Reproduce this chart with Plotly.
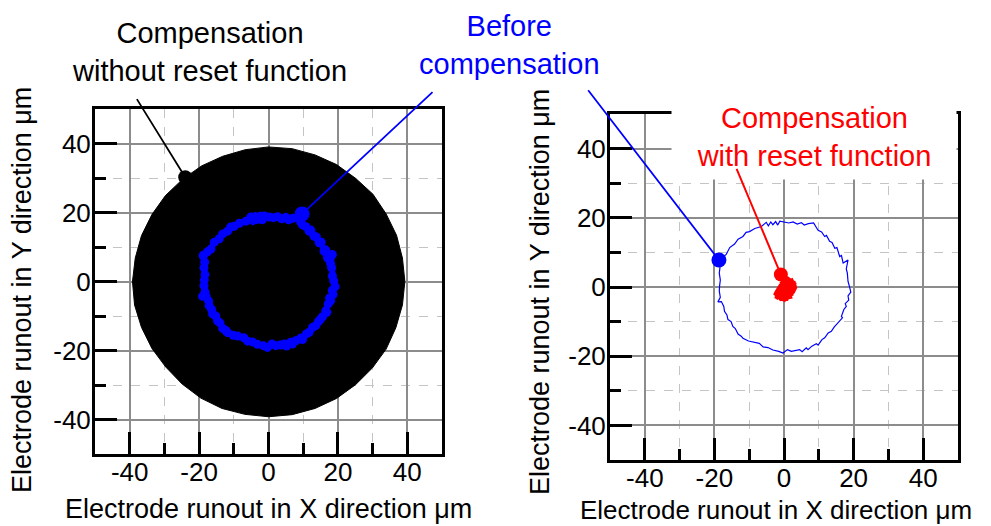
import plotly.graph_objects as go

# ---------------- data ----------------
# "Before compensation" trajectory (µm)
before_x = [-18.8, -17.6, -16.6, -15.6, -14.2, -13.2, -11.8, -10.9, -9.9, -8.4, -6.5, -5.1, -4.5, -3.8,
            -3.2, -2.4, -1.8, -1.2, 0.2, 1.4, 2.6, 3.8, 5.0, 5.8, 7.0, 8.5, 9.3, 9.8, 10.8, 11.7, 12.2,
            13.1, 13.8, 14.6, 15.2, 16.0, 16.5, 17.0, 18.4, 17.9, 18.2, 18.4, 18.8, 19.2, 18.4, 18.6,
            17.6, 17.9, 17.2, 16.5, 16.8, 15.6, 15.0, 14.4, 13.6, 12.7, 11.7, 10.9, 9.8, 9.3, 8.0, 6.9,
            6.4, 5.2, 4.5, 3.4, 2.1, 1.0, -0.3, -1.5, -3.2, -4.6, -6.0, -7.1, -8.9, -10.2, -11.8, -12.3,
            -13.2, -14.0, -14.7, -15.2, -16.1, -16.4, -17.1, -17.3, -18.0, -19.0, -18.3, -18.6, -18.5,
            -18.3, -18.6, -18.4, -18.8]
before_y = [7.6, 8.6, 9.4, 11.4, 12.4, 13.8, 14.6, 15.8, 16.0, 16.9, 17.5, 18.7, 17.7, 18.8,
            18.0, 18.9, 17.9, 19.0, 18.7, 18.5, 18.8, 18.2, 18.6, 17.9, 18.3, 18.5, 17.2, 16.4, 15.9, 14.6, 14.9,
            13.2, 12.9, 11.2, 11.4, 8.8, 9.1, 6.9, 7.8, 5.2, 4.0, 1.6, 0.2, -1.5, -2.6, -3.8,
            -4.8, -5.6, -6.5, -8.5, -8.9, -10.2, -10.9, -11.6, -12.8, -13.3, -14.7, -15.2, -16.8, -16.4, -17.1, -18.1,
            -17.6, -18.7, -18.1, -18.4, -18.6, -18.1, -19.1, -18.6, -18.2, -17.5, -17.3, -16.3, -15.8, -15.6, -14.8, -14.2,
            -13.6, -12.0, -11.4, -10.0, -9.4, -8.1, -7.0, -5.6, -4.2, -4.3, -3.0, -1.2, 0.4,
            2.0, 4.0, 5.6, 7.4]

# outline of the dense "compensation without reset function" trajectory
without_x = [39.3, 38.6, 36.9, 33.9, 30.1, 25.1, 19.6, 13.4, 6.8, 0.0, -6.7, -13.2, -19.3, -24.8, -29.7,
             -33.6, -36.6, -38.4, -39.2, -38.6, -36.6, -33.6, -29.6, -24.9, -19.5, -13.4, -6.8, 0.0,
             6.8, 13.4, 19.6, 25.1, 29.9, 33.9, 36.7, 38.6, 39.3]
without_y = [0.0, 6.8, 13.4, 19.6, 25.3, 29.9, 33.9, 36.7, 38.5, 39.0, 38.2, 36.3, 33.5, 29.6, 24.9,
             19.4, 13.3, 6.8, 0.0, -6.8, -13.3, -19.4, -24.8, -29.7, -33.8, -36.8, -38.5, -39.2,
             -38.6, -36.8, -33.9, -29.9, -25.1, -19.6, -13.4, -6.8, 0.0]

# "Compensation with reset function" trajectory
with_x = [0.0, 1.2, 2.5, 1.8, 0.4, -0.6, 0.8, 2.8, 3.0, 1.1, -1.0, -2.0, -0.7, 0.5, 1.6, 2.6, 3.2, 2.2, 0.3,
          -1.5, -2.4, -1.2, 0.1, 0.9, 2.0, 1.4, -0.2, -1.8, -0.4, 1.5, 2.9, 1.9, 0.6, -1.1, 0.4, 2.2, 2.7,
          0.9, -0.5, 0.2, -2.2, -1.4, 1.0, 2.4, 3.1, 0.0, -1.6, -0.9, 1.8, 0.7]
with_y = [0.0, -0.8, 0.6, 1.5, 2.1, 1.2, -1.6, -0.5, 0.9, 2.4, 0.4, -1.2, -2.6, -3.4, -2.2, -1.4, -0.2, 1.9, 1.0,
          -0.4, -2.0, -3.1, -3.7, -2.7, -0.9, 0.8, -0.8, -2.6, -1.9, -1.2, 0.3, 1.1, 0.3, -1.5, -2.3, -2.0, 1.3,
          1.7, 0.6, -1.2, -3.3, -0.2, -3.0, 0.1, -1.0, 1.6, -2.4, -3.5, -2.9, 2.0]

# label pointer positions (data units)
ptr_without = (-24.0, 30.2)
ptr_before_left = (9.7, 19.6)
ptr_before_right = (-18.7, 7.8)
ptr_with = (-0.9, 3.6)

major_ticks = [-40, -20, 0, 20, 40]
major_labels = ["-40", "-20", "0", "20", "40"]
minor_ticks = [-30, -10, 10, 30]

BLUE = "#0000ff"
RED = "#ff0000"
FONT = "Liberation Sans, Arial, sans-serif"

fig = go.Figure()

# left panel
fig.add_trace(go.Scatter(x=without_x, y=without_y, mode="lines", fill="toself",
                         fillcolor="black", line=dict(color="black", width=1),
                         xaxis="x", yaxis="y", hoverinfo="skip"))
fig.add_trace(go.Scatter(x=[ptr_without[0]], y=[ptr_without[1]], mode="markers",
                         marker=dict(color="black", size=14), xaxis="x", yaxis="y"))
fig.add_trace(go.Scatter(x=before_x, y=before_y, mode="lines+markers",
                         line=dict(color=BLUE, width=6), marker=dict(color=BLUE, size=9),
                         xaxis="x", yaxis="y"))
fig.add_trace(go.Scatter(x=[ptr_before_left[0]], y=[ptr_before_left[1]], mode="markers",
                         marker=dict(color=BLUE, size=15), xaxis="x", yaxis="y"))

# right panel
fig.add_trace(go.Scatter(x=before_x, y=before_y, mode="lines",
                         line=dict(color=BLUE, width=1.2), xaxis="x2", yaxis="y2"))
fig.add_trace(go.Scatter(x=[ptr_before_right[0]], y=[ptr_before_right[1]], mode="markers",
                         marker=dict(color=BLUE, size=15), xaxis="x2", yaxis="y2"))
fig.add_trace(go.Scatter(x=with_x, y=with_y, mode="lines",
                         line=dict(color=RED, width=4), xaxis="x2", yaxis="y2"))
fig.add_trace(go.Scatter(x=[ptr_with[0]], y=[ptr_with[1]], mode="markers",
                         marker=dict(color=RED, size=14), xaxis="x2", yaxis="y2"))


def axis_style(domain, anchor, standoff):
    return dict(
        domain=domain, anchor=anchor, range=[-50, 50],
        tickmode="array", tickvals=major_ticks, ticktext=major_labels,
        ticks="inside", ticklen=22, tickwidth=3, tickcolor="black",
        ticklabelstandoff=standoff,
        showgrid=True, gridcolor="#8c8c8c", gridwidth=1.5,
        minor=dict(tickmode="array", tickvals=minor_ticks, ticks="inside", ticklen=11,
                   tickwidth=3, tickcolor="black", showgrid=True, gridcolor="#c4c4c4",
                   griddash="dash", gridwidth=1),
        showline=True, linewidth=3, linecolor="black", mirror=True,
        zeroline=False, tickfont=dict(size=26, color="black", family=FONT),
    )


W, H = 991, 526
OFF = 8  # page body margin


def px(xp):
    return (xp - OFF) / W


def py(yp):
    return 1 - (yp - OFF) / H


fig.update_layout(
    width=W, height=H, margin=dict(l=0, r=0, t=0, b=0),
    paper_bgcolor="white", plot_bgcolor="white", showlegend=False,
    font=dict(family=FONT, color="black"),
    xaxis=axis_style([px(95), px(442)], "y", -7),
    yaxis=axis_style([py(454), py(109)], "x", -4),
    xaxis2=axis_style([px(610), px(958)], "y2", -7),
    yaxis2=axis_style([py(460), py(114)], "x2", -4),
)

ann = []
# leader lines
for xr, yr, (ptx, pty), (tx, ty), col, w in [
    ("x", "y", ptr_without, (-38.2, 53.3), "black", 1.8),
    ("x", "y", ptr_before_left, (47.7, 55.3), BLUE, 1.8),
    ("x2", "y2", ptr_before_right, (-56.6, 57.3), BLUE, 1.8),
]:
    ann.append(dict(xref=xr, yref=yr, x=ptx, y=pty, axref=xr, ayref=yr, ax=tx, ay=ty,
                    text="", showarrow=True, arrowhead=0, arrowwidth=w, arrowcolor=col,
                    standoff=0, startstandoff=0))

LBL = 29
# labels
ann.append(dict(xref="paper", yref="paper", x=px(209), y=py(52),
                text="Compensation<br>without reset function", showarrow=False,
                font=dict(size=LBL, color="black"), xanchor="center", yanchor="middle"))
ann.append(dict(xref="paper", yref="paper", x=px(509), y=py(45),
                text="Before<br>compensation", showarrow=False,
                font=dict(size=LBL, color=BLUE), xanchor="center", yanchor="middle"))
ann.append(dict(xref="paper", yref="paper", x=px(814), y=py(137),
                text="Compensation<br>with reset function", showarrow=False,
                font=dict(size=LBL, color=RED), xanchor="center", yanchor="middle",
                bgcolor="white", width=282, height=82))
ann.append(dict(xref="x2", yref="y2", x=ptr_with[0], y=ptr_with[1], axref="x2", ayref="y2",
                ax=-13.8, ay=34.6, text="", showarrow=True, arrowhead=0, arrowwidth=2,
                arrowcolor=RED, standoff=0, startstandoff=0))

# axis titles
xt = "Electrode runout in X direction μm"
yt = "Electrode runout in Y direction μm"
ann.append(dict(xref="paper", yref="paper", x=px(268), y=py(509), text=xt, showarrow=False,
                font=dict(size=27), xanchor="center", yanchor="middle"))
ann.append(dict(xref="paper", yref="paper", x=px(776), y=py(510), text=xt, showarrow=False,
                font=dict(size=26), xanchor="center", yanchor="middle"))
ann.append(dict(xref="paper", yref="paper", x=px(22), y=py(290), text=yt, showarrow=False,
                font=dict(size=27), xanchor="center", yanchor="middle", textangle=-90))
ann.append(dict(xref="paper", yref="paper", x=px(540), y=py(292), text=yt, showarrow=False,
                font=dict(size=27), xanchor="center", yanchor="middle", textangle=-90))

fig.update_layout(annotations=ann)
fig.write_html("out.html")
